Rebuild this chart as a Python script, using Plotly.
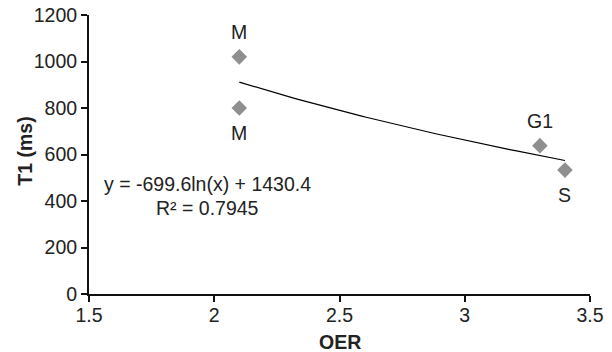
import numpy as np
import plotly.graph_objects as go

# Data
oer = [2.1, 2.1, 3.3, 3.4]
t1 = [1020, 800, 638, 533]
labels = ["M", "M", "G1", "S"]
label_pos = ["top", "bottom", "top", "bottom"]
# Logarithmic trendline coefficients (as printed on the chart)
fit_a = -699.6
fit_b = 1430.4
r2 = 0.7945
x_ticks = [1.5, 2, 2.5, 3, 3.5]
y_ticks = [0, 200, 400, 600, 800, 1000, 1200]

FONT = "Liberation Sans, Arial, sans-serif"
FS = 19.5
TXT = "#222222"

W, H = 612, 352
ML, MR, MT, MB = 89, 22, 15, 58

fig = go.Figure()

xs = np.linspace(min(oer), max(oer), 60)
fig.add_trace(go.Scatter(x=xs, y=fit_a * np.log(xs) + fit_b, mode="lines",
                         line=dict(color="black", width=1.2), hoverinfo="skip",
                         showlegend=False))

fig.add_trace(go.Scatter(x=oer, y=t1, mode="markers",
                         marker=dict(symbol="diamond", size=12, color="#8f8f8f"),
                         showlegend=False))

for x, y, lab, pos in zip(oer, t1, labels, label_pos):
    fig.add_annotation(x=x, y=y, text=lab, showarrow=False,
                       yshift=25 if pos == "top" else -25,
                       font=dict(family=FONT, size=FS, color=TXT))

fig.add_annotation(x=1.972, y=473, text=f"y = {fit_a}ln(x) + {fit_b}", showarrow=False,
                   font=dict(family=FONT, size=FS, color=TXT))
fig.add_annotation(x=1.972, y=370, text=f"R² = {r2}", showarrow=False,
                   font=dict(family=FONT, size=FS, color=TXT))

# axis titles
pw, ph = W - ML - MR, H - MT - MB
fig.add_annotation(xref="paper", yref="paper", x=(25 - ML) / pw, y=0.51,
                   xanchor="center", yanchor="middle",
                   text="<b>T1 (ms)</b>", textangle=-90, showarrow=False,
                   font=dict(family=FONT, size=FS, color=TXT))
fig.add_annotation(xref="paper", yref="paper", x=(340 - ML) / pw, y=-(342 - (MT + ph)) / ph,
                   xanchor="center", yanchor="middle",
                   text="<b>OER</b>", showarrow=False,
                   font=dict(family=FONT, size=FS, color=TXT))

fig.update_layout(
    width=W, height=H,
    margin=dict(l=ML, r=MR, t=MT, b=MB),
    plot_bgcolor="white", paper_bgcolor="white",
    font=dict(family=FONT, size=FS, color=TXT),
)
fig.update_xaxes(range=[1.5, 3.5], tickvals=x_ticks, ticktext=[str(v) for v in x_ticks],
                 automargin=False, ticklabelstandoff=-3,
                 showgrid=False, zeroline=False, showline=True, linecolor="#111111", linewidth=2,
                 ticks="outside", ticklen=6, tickwidth=1.5, tickcolor="#111111")
fig.update_yaxes(range=[0, 1200], tickvals=y_ticks,
                 automargin=False,
                 showgrid=False, zeroline=False, showline=True, linecolor="#111111", linewidth=2,
                 ticks="outside", ticklen=6, tickwidth=1.5, tickcolor="#111111")

fig.write_html("out.html", config={"displayModeBar": False},
               post_script="document.body.style.margin='0';")
